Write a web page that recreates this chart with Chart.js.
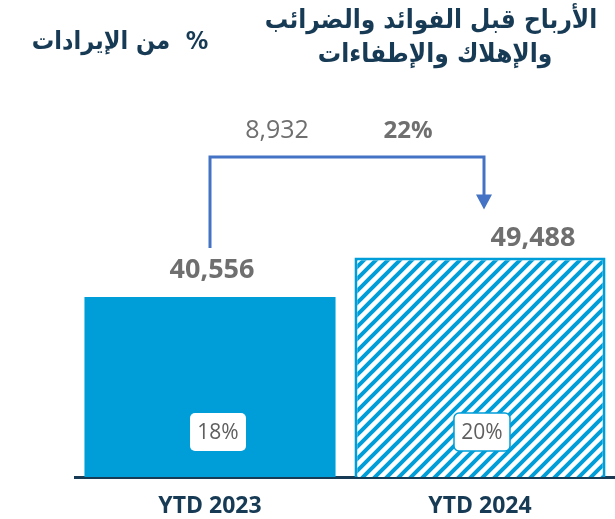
<!DOCTYPE html>
<html>
<head>
<meta charset="utf-8">
<script src="https://cdn.jsdelivr.net/npm/chart.js@4.4.1/dist/chart.umd.min.js"></script>
<style>
  html, body { margin: 0; padding: 0; background: #ffffff; }
  #wrap { width: 615px; height: 519px; position: relative; }
</style>
</head>
<body>
<div id="wrap"><canvas id="ebitdaChart"></canvas></div>
<script>
// EBITDA YTD comparison
const categories = ["YTD 2023", "YTD 2024"];
const ebitda = [40556, 49488];
const marginLabels = ["18%", "20%"];
const changeLabels = ["8,932", "22%"];
const titleLines = ["الأرباح قبل الفوائد والضرائب", "والإهلاك والإطفاءات"];
const subTitle = "%  من الإيرادات";

const NAVY = "#173a55";
const BLUE = "#009ed9";
const GREY = "#6f6f6f";
const ARROW = "#4472c4";

// diagonal hatch pattern for the 2024 bar
function makeHatch() {
    const s = 12;
    const c = document.createElement("canvas");
    c.width = s; c.height = s;
    const g = c.getContext("2d");
    g.fillStyle = "#ffffff";
    g.fillRect(0, 0, s, s);
    g.strokeStyle = BLUE;
    g.lineWidth = 4;
    g.beginPath();
    g.moveTo(-2, s + 2); g.lineTo(s + 2, -2);
    g.moveTo(-2, 2); g.lineTo(2, -2);
    g.moveTo(s - 2, s + 2); g.lineTo(s + 2, s - 2);
    g.stroke();
    return g.createPattern(c, "repeat");
}

function roundBox(ctx, x, y, w, h, r) {
    ctx.beginPath();
    ctx.moveTo(x + r, y);
    ctx.arcTo(x + w, y, x + w, y + h, r);
    ctx.arcTo(x + w, y + h, x, y + h, r);
    ctx.arcTo(x, y + h, x, y, r);
    ctx.arcTo(x, y, x + w, y, r);
    ctx.closePath();
}

// titles, value labels, the change arrow and the margin boxes
const annotations = {
    id: "annotations",
    afterDatasetsDraw(chart) {
        const ctx = chart.ctx;
        const meta = chart.getDatasetMeta(0);
        const yScale = chart.scales.y;
        const b0 = meta.data[0], b1 = meta.data[1];
        const top0 = yScale.getPixelForValue(ebitda[0]);
        const top1 = yScale.getPixelForValue(ebitda[1]);
        const base = yScale.getPixelForValue(0);

        ctx.save();
        ctx.textAlign = "center";
        ctx.textBaseline = "middle";

        // titles
        ctx.fillStyle = NAVY;
        ctx.font = "bold 26px 'DejaVu Sans Condensed', 'DejaVu Sans'";
        ctx.direction = "rtl";
        ctx.fillText(titleLines[0], 431, 21);
        ctx.fillText(titleLines[1], 435, 55);
        ctx.font = "bold 25px 'DejaVu Sans Condensed', 'DejaVu Sans'";
        ctx.fillText(subTitle, 120, 42);
        ctx.direction = "ltr";

        // bar values
        ctx.fillStyle = GREY;
        ctx.font = "bold 27px 'Open Sans'";
        ctx.fillText(ebitda[0].toLocaleString("en-US"), b0.x + 2, top0 - 27);
        ctx.fillText(ebitda[1].toLocaleString("en-US"), b1.x + 53, top1 - 19);

        // change arrow
        const topY = 157;
        const ax = b1.x + 4;
        const tipY = top1 - 48;
        ctx.strokeStyle = ARROW;
        ctx.lineWidth = 3;
        ctx.beginPath();
        ctx.moveTo(b0.x, top0 - 49);
        ctx.lineTo(b0.x, topY);
        ctx.lineTo(ax, topY);
        ctx.lineTo(ax, tipY - 14);
        ctx.stroke();
        ctx.fillStyle = ARROW;
        ctx.beginPath();
        ctx.moveTo(ax - 8, tipY - 15);
        ctx.lineTo(ax + 8, tipY - 15);
        ctx.lineTo(ax, tipY);
        ctx.closePath();
        ctx.fill();

        // change labels
        ctx.fillStyle = GREY;
        ctx.font = "25px 'Open Sans'";
        ctx.fillText(changeLabels[0], b0.x + 67, 131);
        ctx.font = "bold 24px 'Open Sans'";
        ctx.fillText(changeLabels[1], b0.x + 198, 131);

        // margin boxes
        const boxes = [[b0.x + 8, false], [b1.x + 2, true]];
        ctx.font = "21px 'Open Sans'";
        boxes.forEach(([cx, bordered], i) => {
            const w = 56, h = 38, cy = base - 45;
            roundBox(ctx, cx - w / 2, cy - h / 2, w, h, 5);
            ctx.fillStyle = "#ffffff";
            ctx.fill();
            if (bordered) {
                ctx.strokeStyle = BLUE;
                ctx.lineWidth = 1.5;
                ctx.stroke();
            }
            ctx.fillStyle = "#5f5f5f";
            ctx.fillText(marginLabels[i], cx, cy + 1);
        });
        ctx.restore();
    }
};

new Chart(document.getElementById("ebitdaChart"), {
    type: "bar",
    data: {
        labels: categories,
        datasets: [{
            data: ebitda,
            backgroundColor: [BLUE, makeHatch()],
            borderColor: [BLUE, BLUE],
            borderWidth: [0, 3],
            barPercentage: 0.93,
            categoryPercentage: 1
        }]
    },
    options: {
        responsive: true,
        maintainAspectRatio: false,
        animation: false,
        layout: { padding: { left: 75, right: 0, top: 100, bottom: 0 } },
        plugins: {
            legend: { display: false },
            tooltip: { enabled: false }
        },
        scales: {
            y: {
                display: false,
                min: 0,
                max: 85000
            },
            x: {
                afterFit(scale) { scale.height = 42; },
                grid: { display: false, drawTicks: false },
                border: { display: true, color: NAVY, width: 3 },
                ticks: {
                    color: NAVY,
                    padding: 16,
                    font: { family: "'Open Sans'", size: 23, weight: "bold" }
                }
            }
        }
    },
    plugins: [annotations]
});
</script>
</body>
</html>
